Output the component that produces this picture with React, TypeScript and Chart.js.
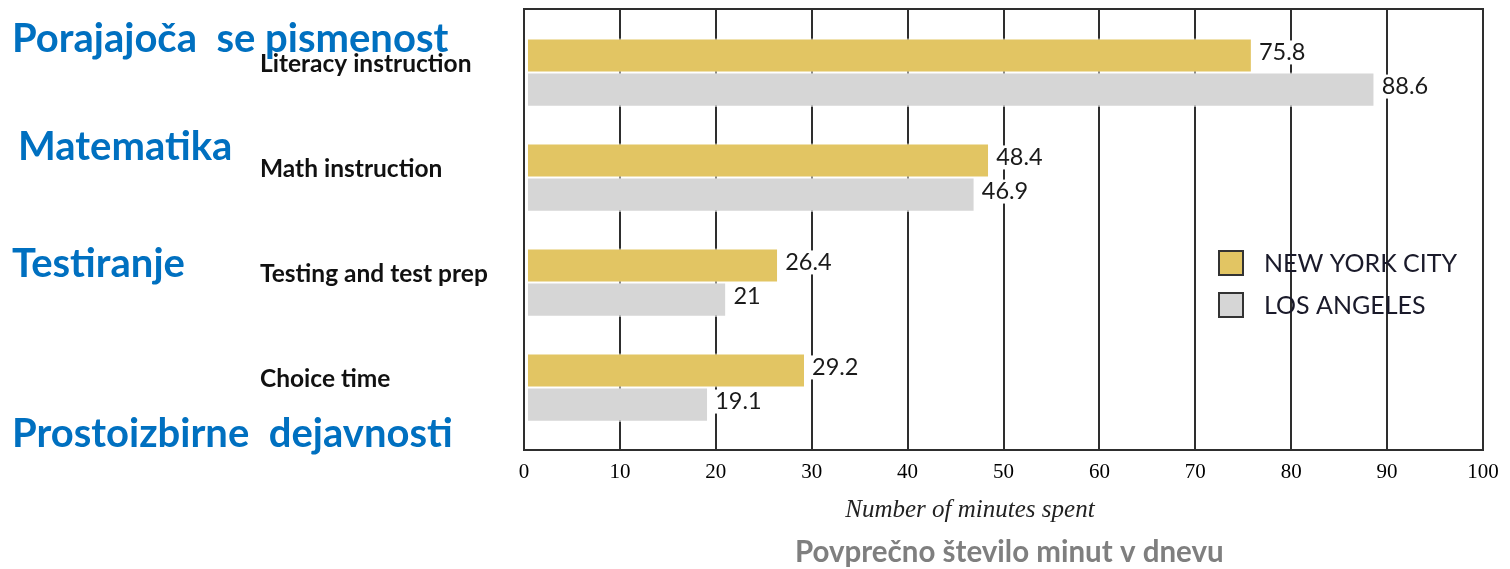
import React, { useEffect, useRef } from 'react';
import { Chart, registerables } from 'chart.js';

Chart.register(...registerables);

const categories = ['Literacy instruction', 'Math instruction', 'Testing and test prep', 'Choice time'];
const slovenianLabels = ['Porajajoča  se pismenost', 'Matematika', 'Testiranje', 'Prostoizbirne  dejavnosti'];
const seriesNames = ['NEW YORK CITY', 'LOS ANGELES'];
const newYorkValues = [75.8, 48.4, 26.4, 29.2];
const losAngelesValues = [88.6, 46.9, 21, 19.1];
const xTickLabels = ['0', '10', '20', '30', '40', '50', '60', '70', '80', '90', '100'];
const xTitle = 'Number of minutes spent';
const xSubtitle = 'Povprečno število minut v dnevu';

const COLORS = ['#E2C563', '#D6D6D6'];
const LINE = '#2e2e2e';
const BLUE = '#0070C0';

// layout positions (px) for free-standing annotation text
const sloPos: [number, number][] = [[12, 52], [18, 160], [12, 277], [12, 447]];
const FRAME_TOP_EXT = 11;
const FRAME_BOTTOM_EXT = 10;

const frameAndGrid = {
  id: 'frameAndGrid',
  beforeDatasetsDraw(chart: any) {
    const { ctx, chartArea, scales } = chart;
    const top = chartArea.top - FRAME_TOP_EXT;
    const bottom = chartArea.bottom + FRAME_BOTTOM_EXT;
    ctx.save();
    ctx.strokeStyle = LINE;
    ctx.lineWidth = 2;
    ctx.beginPath();
    scales.x.ticks.forEach((t: any) => {
      const x = Math.round(scales.x.getPixelForValue(t.value));
      ctx.moveTo(x, top);
      ctx.lineTo(x, bottom);
    });
    ctx.stroke();
    ctx.restore();
  },
  afterDatasetsDraw(chart: any) {
    const { ctx, chartArea } = chart;
    const top = chartArea.top - FRAME_TOP_EXT;
    const bottom = chartArea.bottom + FRAME_BOTTOM_EXT;
    ctx.save();
    ctx.strokeStyle = LINE;
    ctx.lineWidth = 2;
    ctx.beginPath();
    ctx.rect(chartArea.left, top, chartArea.right - chartArea.left, bottom - top);
    ctx.stroke();
    ctx.restore();
  },
};

const annotations = {
  id: 'annotations',
  afterDraw(chart: any) {
    const { ctx, chartArea } = chart;
    ctx.save();

    // value labels
    ctx.font = '23.5px Lato';
    ctx.textBaseline = 'middle';
    ctx.textAlign = 'left';
    chart.data.datasets.forEach((ds: any, di: number) => {
      const meta = chart.getDatasetMeta(di);
      meta.data.forEach((bar: any, i: number) => {
        const txt = String(ds.data[i]);
        const x = bar.x + 8;
        const y = bar.y - 3;
        const w = ctx.measureText(txt).width;
        ctx.fillStyle = '#ffffff';
        ctx.fillRect(x - 2, y - 12, w + 4, 24);
        ctx.fillStyle = '#1a1a1a';
        ctx.fillText(txt, x, y);
      });
    });

    // legend
    const lx = chartArea.right - 264;
    const ly = chartArea.top + 231;
    chart.data.datasets.forEach((ds: any, di: number) => {
      const y = ly + di * 42;
      ctx.fillStyle = ds.backgroundColor;
      ctx.fillRect(lx, y, 24, 24);
      ctx.strokeStyle = '#333';
      ctx.lineWidth = 2;
      ctx.strokeRect(lx, y, 24, 24);
      ctx.fillStyle = '#1a1a2a';
      ctx.font = '25px Lato';
      ctx.textBaseline = 'middle';
      ctx.fillText(ds.label, lx + 45, y + 13);
    });

    // Slovenian labels
    ctx.fillStyle = BLUE;
    ctx.font = 'bold 40px Lato';
    ctx.textBaseline = 'alphabetic';
    slovenianLabels.forEach((t, i) => {
      ctx.fillText(t, sloPos[i][0], sloPos[i][1]);
    });

    // x titles
    const w = chartArea.right - chartArea.left;
    ctx.textAlign = 'center';
    ctx.textBaseline = 'alphabetic';
    ctx.fillStyle = '#222';
    ctx.font = 'italic 25px "Liberation Serif"';
    ctx.fillText(xTitle, chartArea.left + w * 0.465, 517);
    ctx.fillStyle = '#7F7F7F';
    ctx.font = 'bold 29.5px Lato';
    ctx.fillText(xSubtitle, chartArea.left + w * 0.506, 562);
    ctx.restore();
  },
};

export default function App() {
  const ref = useRef<HTMLCanvasElement>(null);
  useEffect(() => {
    if (!ref.current) return;
    const barStyle = {
      borderColor: '#ffffff',
      borderWidth: { left: 4, top: 1, bottom: 1, right: 0 },
      borderSkipped: false,
      categoryPercentage: 0.65,
      barPercentage: 1,
    };
    const chart = new Chart(ref.current, {
      type: 'bar',
      data: {
        labels: categories,
        datasets: [
          { label: seriesNames[0], data: newYorkValues, backgroundColor: COLORS[0], ...barStyle },
          { label: seriesNames[1], data: losAngelesValues, backgroundColor: COLORS[1], ...barStyle },
        ],
      },
      options: {
        indexAxis: 'y',
        animation: false,
        responsive: true,
        maintainAspectRatio: false,
        layout: { padding: { left: 260, right: 27, top: 20, bottom: 0 } },
        plugins: { legend: { display: false }, tooltip: { enabled: false }, title: { display: false } },
        scales: {
          x: {
            min: 0,
            max: 100,
            ticks: {
              stepSize: 10,
              padding: 20,
              color: '#000',
              font: { family: '"Liberation Serif"', size: 21 },
              callback: (_v: any, i: number) => xTickLabels[i],
            },
            grid: { display: false, drawTicks: false },
            border: { display: false },
            afterFit: (s: any) => { s.height = 129; s.paddingLeft = 0; s.paddingRight = 0; },
          },
          y: {
            ticks: {
              crossAlign: 'far',
              labelOffset: -8,
              color: '#111',
              font: { family: 'Lato', size: 24.5, weight: 'bold' },
            },
            grid: { display: false, drawTicks: false },
            border: { display: false },
            afterFit: (s: any) => { s.width = 264; s.paddingTop = 0; s.paddingBottom = 0; },
          },
        },
      },
      plugins: [frameAndGrid, annotations],
    });
    return () => chart.destroy();
  }, []);
  return (
    <div style={{ position: 'absolute', left: 0, top: 0, width: 1510, height: 569 }}>
      <canvas ref={ref} />
    </div>
  );
}
